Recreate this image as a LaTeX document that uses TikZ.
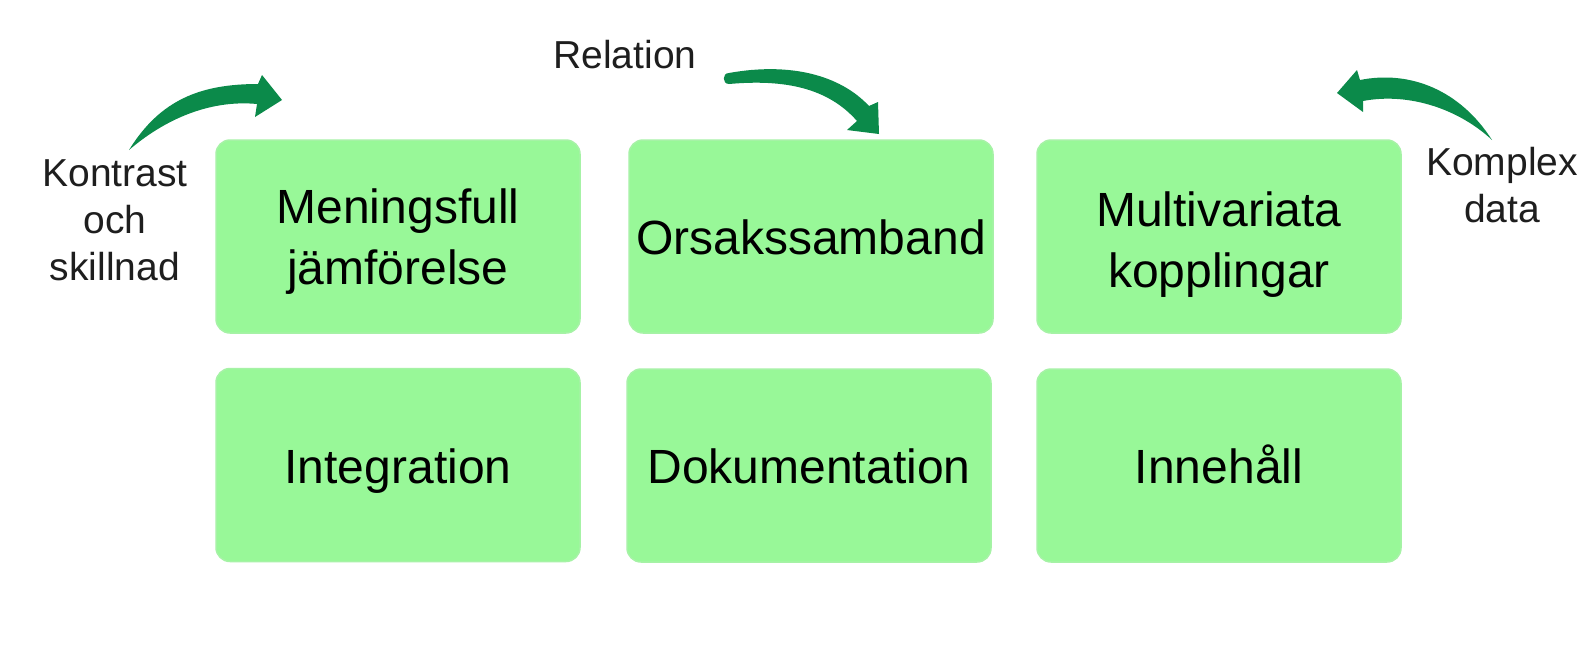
\documentclass[tikz,border=0pt]{standalone}
\usepackage{fontspec}
\setmainfont{Liberation Sans}
\definecolor{boxgreen}{HTML}{98F898}
\definecolor{boxedge}{HTML}{A6F2A6}
\definecolor{arrowgreen}{HTML}{0B8A4A}
\definecolor{labelgray}{HTML}{1E1E1E}
\tikzset{
  card/.style={rectangle, rounded corners=14pt, fill=boxgreen, draw=boxedge, line width=1.5pt,
    minimum width=364pt, minimum height=193pt, inner sep=0pt},
  cardtext/.style={inner sep=0pt, align=center, font=\fontsize{48}{61}\selectfont, text=black},
  onelinetext/.style={cardtext, text height=35pt, text depth=10pt, yshift=-5.5pt},
  twolinetext/.style={cardtext, yshift=-5.5pt},
  sidelabel/.style={inner sep=0pt, align=center, font=\fontsize{39}{47}\selectfont, text=labelgray},
  bentarrow/.style={fill=arrowgreen}
}
\begin{document}
\begin{tikzpicture}[x=1pt,y=-1pt]
\useasboundingbox (0,0) rectangle (1588,672);
\fill[white] (0,0) rectangle (1588,672);

% cards
\node[card] (mf) at (398,236.5) {};
\node[card] (os) at (811,236.5) {};
\node[card] (mv) at (1219,236.5) {};
\node[card] (in) at (398,465) {};
\node[card] (dk) at (809,465.5) {};
\node[card] (ih) at (1219,465.5) {};

\node[twolinetext] (mft) at (mf.center) {Meningsfull\\jämförelse};
\node[onelinetext] (ost) at (os.center) {Orsakssamband};
\node[twolinetext, yshift=-3pt] (mvt) at (mv.center) {Multivariata\\kopplingar};
\node[onelinetext] (int) at (in.center) {Integration};
\node[onelinetext] (dkt) at (dk.center) {Dokumentation};
\node[onelinetext] (iht) at (ih.center) {Innehåll};

% side labels
\node[sidelabel] (kontrast) at (115,220.5) {Kontrast\\och\\skillnad};
\node[sidelabel, anchor=base] (relation) at (625,68) {Relation};
\node[sidelabel] (komplex) at (1502,185) {Komplex\\data};

% curved arrows
\fill[bentarrow] (129,150) .. controls (160,100) and (200,84) .. (258,84)
  -- (262,75) -- (282,100) -- (255,117) -- (257,104)
  .. controls (215,100) and (170,115) .. (129,150) -- cycle;

\fill[bentarrow] (729,73) .. controls (790,62) and (840,75) .. (869,106)
  -- (878,102) -- (879,134) -- (847,130) -- (857,121)
  .. controls (828,88) and (785,79) .. (729,84)
  .. controls (722,84) and (722,73) .. (729,73) -- cycle;

\fill[bentarrow] (1337,93) -- (1357,70) -- (1360,80)
  .. controls (1410,70) and (1460,90) .. (1492,140)
  .. controls (1460,110) and (1410,92) .. (1363,101)
  -- (1363,112) -- cycle;
\end{tikzpicture}
\end{document}
